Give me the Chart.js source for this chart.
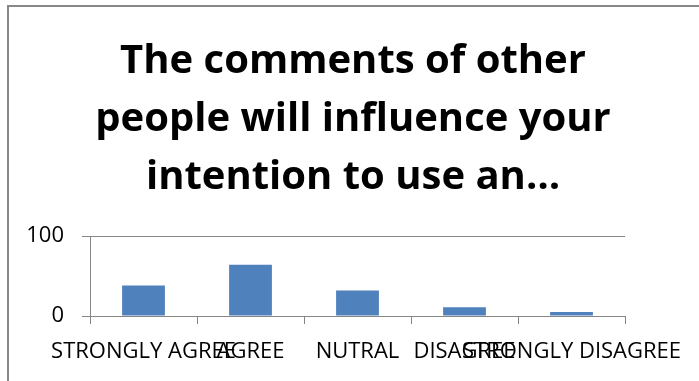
<!DOCTYPE html>
<html>
<head>
<meta charset="utf-8">
<script src="https://cdn.jsdelivr.net/npm/chart.js@4/dist/chart.umd.min.js"></script>
<style>
    html, body { margin: 0; padding: 0; background: #fff; overflow: hidden; }
    #frame {
        position: absolute; left: 7px; top: 5px;
        width: 800px; height: 500px;
        border: 2px solid #888;
    }
    #wrap { position: absolute; left: 0; top: 0; width: 699px; height: 381px; }
</style>
</head>
<body>
<div id="frame"></div>
<div id="wrap"><canvas id="chart"></canvas></div>
<script>
const titleLines = ["The comments of other", "people will influence your", "intention to use an\u2026"];
const answers = ["STRONGLY AGREE", "AGREE", "NUTRAL", "DISAGREE", "STRONGLY DISAGREE"];
const counts = [38, 64, 32, 11, 5];
const yTicks = [0, 100];

const axisGrey = '#868686';
const labelFont = { family: 'Open Sans', size: 22 };

new Chart(document.getElementById('chart'), {
    type: 'bar',
    data: {
        labels: answers,
        datasets: [
            { label: '',
              data: counts,
              backgroundColor: '#4f81bd',
              borderWidth: 0,
              barPercentage: 0.4,
              categoryPercentage: 1.0
            }
        ]
    },
    options: {
        responsive: true,
        maintainAspectRatio: false,
        animation: { duration: 0 },
        layout: { padding: { left: 7, right: 0, top: 0, bottom: 0 } },
        plugins: {
            legend: { display: false },
            tooltip: { enabled: false },
            title: {
                display: true,
                text: titleLines,
                color: '#000',
                font: { family: 'Open Sans', size: 40, weight: 'bold', lineHeight: '58px' },
                padding: { top: 33, bottom: 29 }
            }
        },
        scales: {
            x: {
                grid: {
                    drawOnChartArea: false,
                    drawTicks: true,
                    tickLength: 8,
                    color: axisGrey,
                    offset: true
                },
                border: { color: axisGrey, width: 1 },
                ticks: {
                    autoSkip: false,
                    maxRotation: 0,
                    minRotation: 0,
                    color: '#000',
                    font: labelFont,
                    padding: 15
                },
                afterFit: (scale) => {
                    scale.height = 65;
                    scale.paddingLeft = 0;
                    scale.paddingRight = 74;
                }
            },
            y: {
                min: 0,
                max: 100,
                afterBuildTicks: (scale) => {
                    scale.ticks = yTicks.map(v => ({ value: v }));
                },
                grid: {
                    color: axisGrey,
                    tickLength: 8
                },
                border: { color: axisGrey, width: 1 },
                ticks: {
                    color: '#000',
                    font: labelFont,
                    padding: 18
                },
                afterFit: (scale) => {
                    scale.width = 83;
                    scale.paddingTop = 0;
                    scale.paddingBottom = 0;
                }
            }
        }
    }
});
</script>
</body>
</html>
